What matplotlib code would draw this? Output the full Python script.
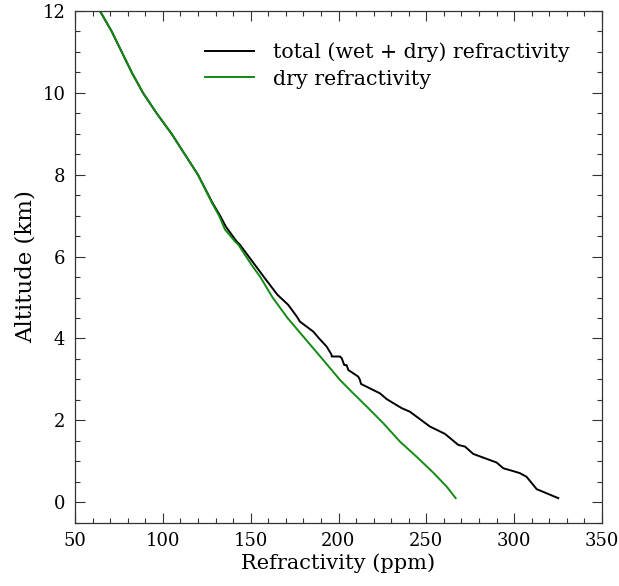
import matplotlib
matplotlib.use("Agg")
import matplotlib.pyplot as plt
from matplotlib.ticker import MultipleLocator

# dry refractivity profile (ppm vs km)
dry_n = [266.7, 261.6, 254.0, 244.5, 235.0, 225.5, 216.0, 206.5, 200.8, 190.4,
         179.9, 171.0, 162.5, 155.5, 150.5, 143.0, 141.1, 135.4, 132.0, 128.0,
         120.0, 112.5, 105.0, 96.5, 88.7, 82.3, 76.6, 70.9, 64.2]
dry_z = [0.10, 0.38, 0.72, 1.11, 1.48, 1.93, 2.34, 2.74, 2.99, 3.52,
         4.05, 4.50, 5.00, 5.50, 5.80, 6.29, 6.37, 6.66, 7.00, 7.31,
         8.00, 8.50, 9.00, 9.50, 10.00, 10.50, 11.00, 11.50, 12.00]

# total (wet + dry) refractivity profile
tot_n = [325.1, 312.8, 307.1, 303.3, 299.5, 293.8, 290.0, 276.7, 272.0, 268.2,
         260.6, 252.0, 240.7, 235.9, 227.4, 223.6, 212.8, 212.2, 211.2, 205.6,
         204.6, 203.3, 201.8, 200.8, 196.1, 196.1, 193.3, 189.0, 185.6, 178.1,
         176.2, 171.4, 165.2, 158.1, 149.6, 143.9, 142.0, 135.9, 132.6, 128.3,
         120.0, 112.5, 105.0, 96.5, 88.7, 82.3, 76.6, 70.9, 64.2]
tot_z = [0.10, 0.32, 0.62, 0.71, 0.76, 0.83, 0.97, 1.18, 1.36, 1.40,
         1.67, 1.85, 2.21, 2.30, 2.52, 2.66, 2.89, 2.99, 3.07, 3.23,
         3.35, 3.35, 3.52, 3.56, 3.56, 3.60, 3.80, 4.00, 4.17, 4.41,
         4.54, 4.82, 5.07, 5.47, 5.96, 6.29, 6.37, 6.73, 7.00, 7.31,
         8.00, 8.50, 9.00, 9.50, 10.00, 10.50, 11.00, 11.50, 12.00]

plt.rcParams['font.family'] = ['DejaVu Serif']

fig = plt.figure(figsize=(6.19, 5.86), dpi=100)
ax = fig.add_axes([75 / 619, 1 - 522.7 / 586, 527 / 619, 511.7 / 586])

ax.plot(tot_n, tot_z, color='black', lw=1.4, label='total (wet + dry) refractivity')
ax.plot(dry_n, dry_z, color='#138a13', lw=1.4, label='dry refractivity')

ax.set_xlim(50, 350)
ax.set_ylim(-0.5, 12)
ax.xaxis.set_major_locator(MultipleLocator(50))
ax.xaxis.set_minor_locator(MultipleLocator(10))
ax.yaxis.set_major_locator(MultipleLocator(2))
ax.yaxis.set_minor_locator(MultipleLocator(0.5))
ax.tick_params(which='both', direction='in', top=True, right=True,
               labelsize=13, color='#333333')
ax.tick_params(which='major', length=7.5, width=0.8, pad=7)
ax.tick_params(which='minor', length=3.8, width=0.8)
for s in ax.spines.values():
    s.set_color('#333333')
    s.set_linewidth(0.9)

ax.set_xlabel('Refractivity (ppm)', fontsize=15, labelpad=2)
ax.set_ylabel('Altitude (km)', fontsize=16.5, labelpad=4)

ax.legend(loc='upper right', frameon=False, fontsize=14.8, handlelength=2.35,
          handletextpad=0.93, labelspacing=0.37, bbox_to_anchor=(0.973, 0.975))

fig.savefig('out.png', dpi=100)
